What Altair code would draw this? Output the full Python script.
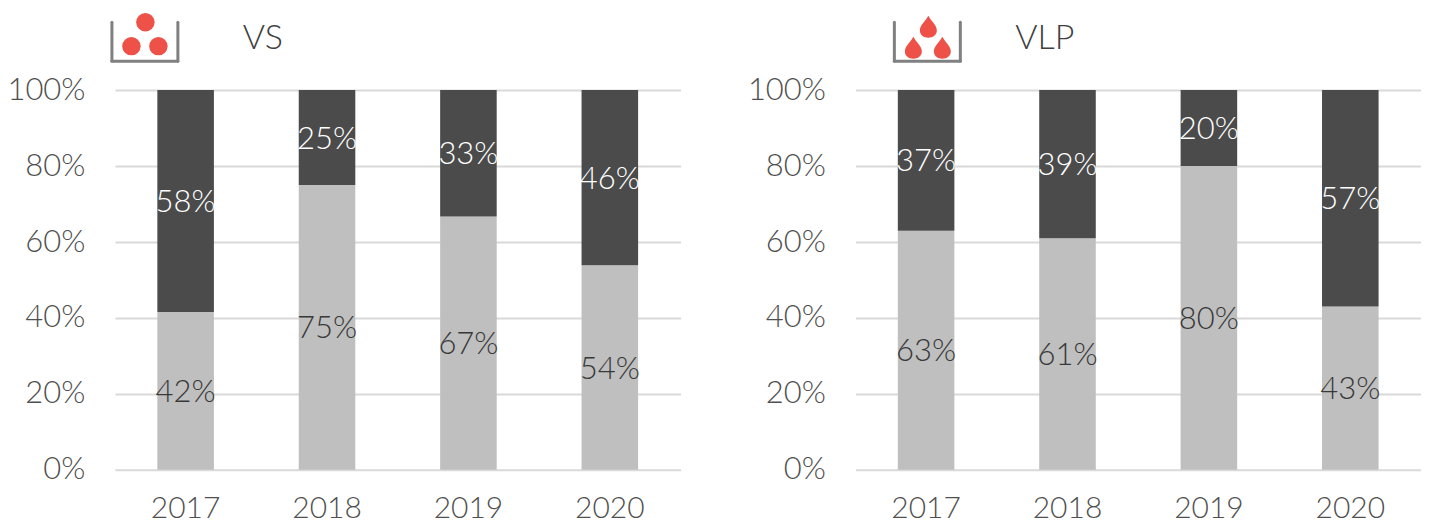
import altair as alt
import pandas as pd

years = ["2017", "2018", "2019", "2020"]
vs_light = [41.6, 75, 66.7, 53.9]
vs_dark = [58.4, 25, 33.3, 46.1]
vlp_light = [63, 61, 80, 43]
vlp_dark = [37, 39, 20, 57]

FONT = "Lato"
DROP = ("M0,-1.15 C0.25,-0.65 0.85,-0.2 0.85,0.3 C0.85,0.78 0.45,1.05 0,1.05 "
        "C-0.45,1.05 -0.85,0.78 -0.85,0.3 C-0.85,-0.2 -0.25,-0.65 0,-1.15 Z")
RED = "#ee5148"
TRAY = "#808080"
AXC = "#505050"


def rows(light, dark):
    out = []
    for y, l, d in zip(years, light, dark):
        out.append(dict(year=y, series="a", value=l, y0=0, y1=l, mid=l / 2, color="#bfbfbf", tc="#383838"))
        out.append(dict(year=y, series="b", value=d, y0=l, y1=l + d, mid=l + d / 2, color="#4b4b4b", tc="#ffffff"))
    for r in out:
        r["label"] = f'{round(r["value"])}%'
    return pd.DataFrame(out)


def tray_part(x, x2, y, y2):
    return alt.Chart(pd.DataFrame({"a": [0]})).mark_rule(
        color=TRAY, strokeWidth=3, strokeCap="round"
    ).encode(x=alt.value(x), x2=alt.value(x2), y=alt.value(y), y2=alt.value(y2))


def panel(light, dark, title, shape, size, pts, tx, ox):
    df = rows(light, dark)
    xs = alt.X("year:N", title=None, sort=years,
               scale=alt.Scale(paddingInner=0.6, paddingOuter=0.3),
               axis=alt.Axis(labelAngle=0, ticks=False, domain=False, grid=False,
                             labelPadding=24, labelFontSize=30, labelColor=AXC,
                             labelFont=FONT, labelFontWeight=300))
    ys = alt.Y("y0:Q", title=None, scale=alt.Scale(domain=[0, 100], nice=False),
               axis=alt.Axis(values=[0, 20, 40, 60, 80, 100], format="d",
                             labelExpr="datum.value + '%'", ticks=False, domain=False,
                             gridColor="#d9d9d9", gridWidth=2, labelPadding=30,
                             labelFontSize=31, labelColor=AXC, labelFont=FONT,
                             labelFontWeight=300, minExtent=99))
    bars = alt.Chart(df).mark_bar().encode(
        x=xs, y=ys, y2="y1:Q", color=alt.Color("color:N", scale=None)
    )
    labels = alt.Chart(df).mark_text(font=FONT, fontSize=31, fontWeight=300, dy=2).encode(
        x=alt.X("year:N", sort=years), y=alt.Y("mid:Q"), text="label:N",
        color=alt.Color("tc:N", scale=None)
    )
    head = alt.Chart(pd.DataFrame({"t": [title]})).mark_text(
        font=FONT, fontSize=34, fontWeight=300, color="#404040", align="left"
    ).encode(x=alt.value(tx), y=alt.value(-51), text="t:N")
    layers = [bars, labels, head,
              tray_part(ox, ox, -68, -29), tray_part(ox + 66, ox + 66, -68, -29),
              tray_part(ox, ox + 66, -29, -29)]
    for px, py in pts:
        layers.append(alt.Chart(pd.DataFrame({"a": [0]})).mark_point(
            filled=True, opacity=1, color=RED, shape=shape, size=size
        ).encode(x=alt.value(px), y=alt.value(py)))
    return alt.layer(*layers).properties(width=566, height=380)


left = panel(vs_light, vs_dark, "VS", "circle", 340,
             [(30.5, -68), (16.5, -44), (43.5, -44)], 128, -3)
right = panel(vlp_light, vlp_dark, "VLP", DROP, 400,
              [(73, -63), (58, -42), (87, -42)], 160, 39)

chart = alt.hconcat(left, right, spacing=66).properties(
    padding={"left": -2, "top": 4, "right": 0, "bottom": 0}
).configure_view(stroke=None).configure_axis(labelLimit=0)

chart.save("out.html", embed_options={"renderer": "svg", "actions": False})
